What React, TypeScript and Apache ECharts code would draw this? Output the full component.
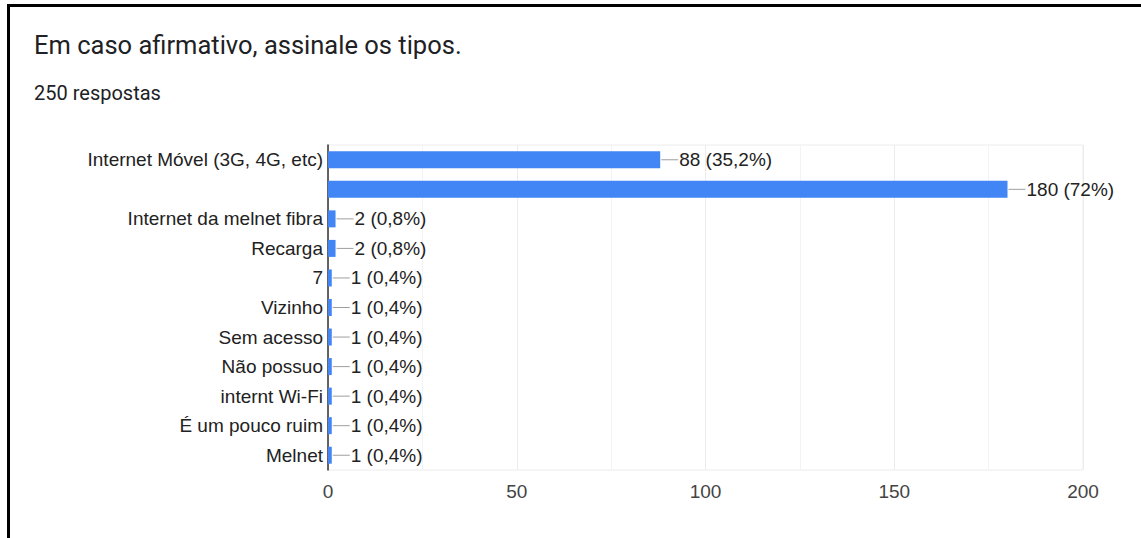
import React, { useEffect, useRef } from "react";
import * as echarts from "echarts";

const TITLE = "Em caso afirmativo, assinale os tipos.";
const SUBTITLE = "250 respostas";
const TOTAL = 250;
const categories = [
  "Internet Móvel (3G, 4G, etc)",
  "",
  "Internet da melnet fibra",
  "Recarga",
  "7",
  "Vizinho",
  "Sem acesso",
  "Não possuo",
  "internt Wi-Fi",
  "É um pouco ruim",
  "Melnet",
];
const values = [88, 180, 2, 2, 1, 1, 1, 1, 1, 1, 1];
const xMin = 0;
const xMax = 200;
const xInterval = 50;

function pct(v: number): string {
  const p = Math.round((v / TOTAL) * 1000) / 10;
  return String(p).replace(".", ",") + "%";
}

export default function App() {
  const ref = useRef<HTMLDivElement>(null);
  useEffect(() => {
    if (!ref.current) return;
    const chart = echarts.init(ref.current, undefined, { renderer: "svg" });
    chart.setOption({
      animation: false,
      backgroundColor: "#fff",
      graphic: [
        { type: "rect", shape: { x: 7, y: 4, width: 1134, height: 3 }, style: { fill: "#000" } },
        { type: "rect", shape: { x: 7, y: 4, width: 3, height: 534 }, style: { fill: "#000" } },
        {
          type: "text",
          x: 34,
          y: 32,
          style: { text: TITLE, font: "25.5px Roboto", fill: "#202124" },
        },
        {
          type: "text",
          x: 34,
          y: 83,
          style: { text: SUBTITLE, font: "20px Roboto", fill: "#202124" },
        },
      ],
      grid: {
        left: 328,
        right: 58,
        top: 145,
        bottom: 68,
        show: true,
        borderColor: "#ececec",
        borderWidth: 1,
        containLabel: false,
      },
      xAxis: {
        type: "value",
        min: xMin,
        max: xMax,
        interval: xInterval,
        axisLine: { show: false },
        axisTick: { show: false },
        axisLabel: { fontFamily: "Liberation Sans", fontSize: 19, color: "#444", margin: 12 },
        splitLine: { show: true, lineStyle: { color: "#ececec" } },
        minorTick: { show: false, splitNumber: 2 },
        minorSplitLine: { show: true, lineStyle: { color: "#f3f3f3" } },
      },
      yAxis: {
        type: "category",
        data: categories,
        inverse: true,
        axisLine: { show: true, lineStyle: { color: "#333", width: 1.5 } },
        axisTick: { show: false },
        axisLabel: { fontFamily: "Liberation Sans", fontSize: 19, color: "#222", margin: 5 },
      },
      series: [
        {
          type: "bar",
          data: values,
          barWidth: 17,
          itemStyle: { color: "#4285f4" },
          label: {
            show: true,
            position: "right",
            distance: 1,
            formatter: (p: any) => "{d|}{t|" + p.value + " (" + pct(p.value) + ")}",
            rich: {
              d: { width: 17, height: 1, backgroundColor: "#9e9e9e" },
              t: { fontFamily: "Liberation Sans", fontSize: 19, color: "#222", padding: [0, 0, 0, 1] },
            },
          },
        },
      ],
    });
    return () => chart.dispose();
  }, []);
  return (
    <div
      ref={ref}
      style={{ position: "fixed", left: 0, top: 0, width: 1141, height: 538 }}
    />
  );
}
